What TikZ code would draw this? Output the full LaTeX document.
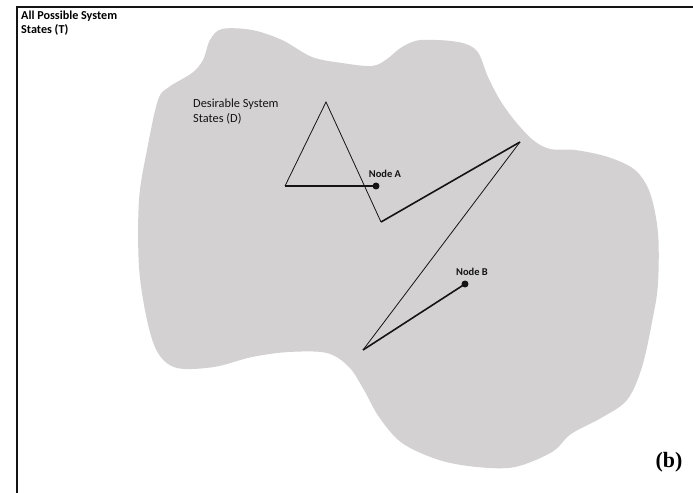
\documentclass[tikz,border=0pt]{standalone}
\usepackage{fontspec}
\setmainfont{Carlito}
\usepackage{tikz}
\usetikzlibrary{positioning,calc}
\usepackage{xcolor}
\definecolor{ink}{RGB}{20,20,20}
\definecolor{region}{RGB}{211,209,209}
\newfontfamily\capfont{Liberation Serif}
\tikzset{
  frame/.style={draw=ink,line width=1.6pt},
  blob/.style={fill=region,draw=none},
  lbl/.style={font=\fontsize{12.4}{15}\selectfont,text=ink,align=left,inner sep=0pt},
  head/.style={font=\fontsize{12.2}{13.5}\selectfont\bfseries,text=black,align=left,inner sep=0pt},
  dotnode/.style={circle,fill=ink,inner sep=0pt,minimum size=7pt},
  nodelbl/.style={font=\fontsize{10.5}{12}\selectfont\bfseries,text=ink,inner sep=0pt},
  thin/.style={draw=ink,line width=0.8pt,line join=miter},
  thick/.style={draw=ink,line width=1.6pt,line join=miter},
}

\begin{document}
\begin{tikzpicture}[x=1bp,y=-1bp]
  \useasboundingbox (0,0) rectangle (693,493);
  % outer set of states
  \draw[frame] (17,493) -- (17,7) -- (693,7);
  \node[head,anchor=north west] (all) at (21,11) {All Possible System\\States (T)};
  % desirable region
  \path[blob] plot[smooth cycle,tension=0.55] coordinates {
    (210,40) (222,29) (252,30) (282,40) (312,57) (342,63) (372,66) (387,59)
    (402,47) (421,40) (458,42) (477,51) (488,77) (500,100) (515,121) (533,140)
    (550,149) (575,150) (608,157) (635,170) (650,193) (658,233) (658,283)
    (653,317) (642,367) (627,400) (601,418) (571,434) (552,452) (515,467)
    (477,467) (439,460) (402,443) (379,417) (364,390) (349,367) (327,353)
    (289,352) (252,357) (214,367) (177,368) (158,353) (147,320) (139,267)
    (139,200) (147,150) (158,100) (169,87) (192,73) (203,60)};
  \node[lbl,anchor=north west] (des) at (193,99) {Desirable System\\States (D)};
  % nodes
  \node[dotnode] (na) at (376,186) {};
  \node[dotnode] (nb) at (465,284) {};
  \node[nodelbl,above=5pt of na,xshift=9pt] (la) {Node A};
  \node[nodelbl,above=5pt of nb,xshift=7pt] (lb) {Node B};
  % path corners
  \coordinate (c1) at (285,186);
  \coordinate (c2) at (326,102);
  \coordinate (c3) at (381,222);
  \coordinate (c4) at (520,142);
  \coordinate (c5) at (363,350);
  \draw[thick] (na.center) -- (c1);
  \draw[thin] (c1) -- (c2) -- (c3);
  \draw[thick] (c3) -- (c4);
  \draw[thin] (c4) -- (c5);
  \draw[thick] (c5) -- (nb.center);
  \node[font=\capfont\fontsize{22}{24}\selectfont\bfseries,inner sep=0pt] (tag) at (669,462) {(b)};
\end{tikzpicture}
\end{document}
